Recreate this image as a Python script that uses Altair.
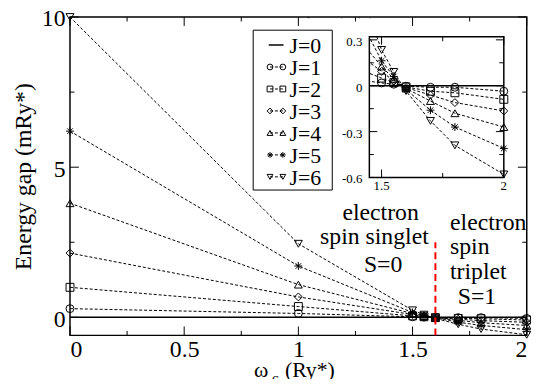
import altair as alt
import pandas as pd

# ---------------- data ----------------
omega = [0.0, 1.0, 1.5, 1.55, 1.6, 1.7, 1.8, 2.0]
J_labels = ["J=0", "J=1", "J=2", "J=3", "J=4", "J=5", "J=6"]
gap_J0 = [0, 0, 0, 0, 0, 0, 0, 0]
gap_J1 = [0.29, 0.13, 0.018, 0.010, -0.003, -0.010, -0.010, -0.036]
gap_J2 = [1.00, 0.36, 0.050, 0.020, -0.008, -0.036, -0.046, -0.089]
gap_J3 = [2.14, 0.68, 0.094, 0.030, -0.012, -0.061, -0.110, -0.165]
gap_J4 = [3.80, 1.09, 0.126, 0.045, -0.018, -0.100, -0.180, -0.270]
gap_J5 = [6.20, 1.71, 0.163, 0.060, -0.025, -0.160, -0.270, -0.410]
gap_J6 = [10.0, 2.45, 0.234, 0.090, -0.035, -0.230, -0.390, -0.580]
series = [gap_J0, gap_J1, gap_J2, gap_J3, gap_J4, gap_J5, gap_J6]

boundary_x = [1.6]          # singlet / triplet boundary
boundary_y = [-0.6, 2.5]

main_x_domain = [0, 2]
main_y_domain = [-0.6, 10]
main_x_major = [0, 0.5, 1, 1.5, 2]
main_x_minor = [0.25, 0.75, 1.25, 1.75]
main_y_major = [0, 5, 10]
main_y_minor = [2.5, 7.5]

inset_x_domain = [1.45, 2]
inset_y_domain = [-0.6, 0.32]
inset_x_major = [1.5, 2]
inset_x_labels = ["1.5", "2"]
inset_x_minor = [1.75]
inset_y_major = [0.3, 0, -0.3, -0.6]
inset_y_labels = ["0.3", "0", "-0.3", "-0.6"]
inset_y_minor = [0.15, -0.15, -0.45]

ann_text = ["electron", "spin singlet", "S=0", "electron", "spin", "triplet", "S=1"]
ann_x = [1.193, 1.095, 1.287, 1.664, 1.664, 1.664, 1.698]
ann_y = [3.25, 2.43, 1.51, 2.92, 2.10, 1.28, 0.45]

xtitle_text = ["ω", "(Ry*)"]
xtitle_x = [0.806, 0.941]
xtitle_y = [-1.98, -1.98]
xsub_text = ["c"]
xsub_x = [0.884]
xsub_y = [-2.18]

legend_rows = [0, 1, 2, 3, 4, 5, 6]

rows = []
for lab, vals in zip(J_labels, series):
    for xv, yv in zip(omega, vals):
        rows.append({"omega": xv, "gap": yv, "J": lab})
df = pd.DataFrame(rows)
ldf = pd.DataFrame({"J": J_labels, "row": legend_rows})

# ---------------- styling / geometry ----------------
SERIF = "Liberation Serif"
W, H = 462, 322
# inset box in pixels, relative to the main plot origin
IL, IR, IT, IB = 302.8, 438.8, 20.0, 162.3

ASTERISK = "M-1,0L1,0M0,-1L0,1M-0.7,-0.7L0.7,0.7M-0.7,0.7L0.7,-0.7"
marker_shapes = {
    "J=1": "circle", "J=2": "square", "J=3": "diamond", "J=4": "triangle-up",
    "J=5": ASTERISK, "J=6": "triangle-down",
}

# ---------------- scales / encoders ----------------
mxs = alt.Scale(domain=main_x_domain, nice=False, zero=False)
mys = alt.Scale(domain=main_y_domain, nice=False, zero=False)
mxa = alt.Axis(values=main_x_major, format="~g", ticks=False, tickSize=0, domain=False,
               grid=False, labelFont=SERIF, labelFontSize=24, labelColor="black",
               labelPadding=2, title=None)
mya = alt.Axis(values=main_y_major, format="d", ticks=False, tickSize=0, domain=False,
               grid=False, labelFont=SERIF, labelFontSize=24, labelColor="black",
               labelPadding=5, labelOffset=2, title="Energy gap (mRy*)", titleFont=SERIF,
               titleFontSize=24, titleFontWeight="normal", titleColor="black",
               titlePadding=6)


def MX(f):
    return alt.X(f, type="quantitative", scale=mxs, axis=mxa)


def MY(f):
    return alt.Y(f, type="quantitative", scale=mys, axis=mya)


oxs = alt.Scale(domain=main_x_domain, nice=False, zero=False)
oys = alt.Scale(domain=main_y_domain, nice=False, zero=False)


def OX(f):
    return alt.X(f, type="quantitative", scale=oxs, axis=None)


def OY(f):
    return alt.Y(f, type="quantitative", scale=oys, axis=None)


ixs = alt.Scale(domain=inset_x_domain, range=[IL, IR], nice=False, zero=False)
iys = alt.Scale(domain=inset_y_domain, range=[IB, IT], nice=False, zero=False)


def IX(f):
    return alt.X(f, type="quantitative", scale=ixs, axis=None)


def IY(f):
    return alt.Y(f, type="quantitative", scale=iys, axis=None)


lys = alt.Scale(domain=[legend_rows[0], legend_rows[-1]], range=[28.3, 161.7])


def LY(f):
    return alt.Y(f, type="quantitative", scale=lys, axis=None)


def series_layers(X, Y, data, clip, point_filter):
    base = alt.Chart(data)
    out = [
        base.transform_filter("datum.J == 'J=0'").mark_line(
            color="black", strokeWidth=1.5, clip=clip).encode(x=X("omega"), y=Y("gap")),
        base.transform_filter("datum.J != 'J=0'").mark_line(
            color="black", strokeWidth=1, strokeDash=[3, 2], clip=clip).encode(
            x=X("omega"), y=Y("gap"), detail="J:N"),
    ]
    for lab, shp in marker_shapes.items():
        out.append(base.transform_filter(f"datum.J == '{lab}'")
                   .transform_filter(point_filter)
                   .mark_point(shape=shp, size=64, filled=False, color="black",
                               strokeWidth=1, opacity=1, clip=clip)
                   .encode(x=X("omega"), y=Y("gap")))
    return out


def tick_layers(xmaj, xmin, ymaj, ymin, X, Y, l, r, t, b, Lmaj, Lmin):
    out = []
    for vals, L in ((xmaj, Lmaj), (xmin, Lmin)):
        d = alt.Chart(pd.DataFrame({"v": vals}))
        out.append(d.mark_rule(color="black", strokeWidth=1).encode(
            x=X("v"), y=alt.value(b), y2=alt.value(b - L)))
        out.append(d.mark_rule(color="black", strokeWidth=1).encode(
            x=X("v"), y=alt.value(t), y2=alt.value(t + L)))
    for vals, L in ((ymaj, Lmaj), (ymin, Lmin)):
        d = alt.Chart(pd.DataFrame({"v": vals}))
        out.append(d.mark_rule(color="black", strokeWidth=1).encode(
            y=Y("v"), x=alt.value(l), x2=alt.value(l + L)))
        out.append(d.mark_rule(color="black", strokeWidth=1).encode(
            y=Y("v"), x=alt.value(r), x2=alt.value(r - L)))
    return out


# ---------------- group 1: main panel ----------------
g1 = series_layers(MX, MY, df, False, "true")
g1.append(
    alt.Chart(pd.DataFrame({"x": boundary_x, "y": [boundary_y[0]], "y2": [boundary_y[1]]}))
    .mark_rule(color="#ff0000", strokeWidth=2, strokeDash=[7, 4])
    .encode(x=MX("x"), y=MY("y"), y2="y2")
)
g1.append(
    alt.Chart(pd.DataFrame({"t": ann_text, "x": ann_x, "y": ann_y}))
    .mark_text(align="left", baseline="alphabetic", font=SERIF, fontSize=24, color="black")
    .encode(x=MX("x"), y=MY("y"), text="t:N")
)
g1.append(
    alt.Chart(pd.DataFrame({"t": xtitle_text, "x": xtitle_x, "y": xtitle_y}))
    .mark_text(align="left", baseline="alphabetic", font=SERIF, fontSize=22, color="black")
    .encode(x=MX("x"), y=MY("y"), text="t:N")
)
g1.append(
    alt.Chart(pd.DataFrame({"t": xsub_text, "x": xsub_x, "y": xsub_y}))
    .mark_text(align="left", baseline="alphabetic", font=SERIF, fontSize=15, color="black")
    .encode(x=MX("x"), y=MY("y"), text="t:N")
)
G1 = alt.layer(*g1)

# ---------------- group 2: inset ----------------
box = alt.Chart(pd.DataFrame({"x": [inset_x_domain[0]], "x2": [inset_x_domain[1]],
                              "y": [inset_y_domain[0]], "y2": [inset_y_domain[1]]}))
top_val = inset_y_domain[1] + (IT - 1.3) / (IB - IT) * (inset_y_domain[1] - inset_y_domain[0])
masks = alt.Chart(pd.DataFrame({"x": [1.0, inset_x_domain[0]],
                                "x2": [inset_x_domain[0], inset_x_domain[1]],
                                "y": [inset_y_domain[0], inset_y_domain[1]],
                                "y2": [top_val, top_val]}))
g2 = [box.mark_rect(fill="white", strokeWidth=0).encode(x=IX("x"), x2="x2", y=IY("y"), y2="y2")]
g2 += series_layers(IX, IY, df[df["omega"] >= 1.0], True, "datum.omega >= 1.5")
g2.append(masks.mark_rect(fill="white", strokeWidth=0).encode(
    x=IX("x"), x2="x2", y=IY("y"), y2="y2"))
g2.append(box.mark_rect(fill="transparent", stroke="black", strokeWidth=1.5).encode(
    x=IX("x"), x2="x2", y=IY("y"), y2="y2"))
g2 += tick_layers(inset_x_major, inset_x_minor, inset_y_major, inset_y_minor,
                  IX, IY, IL, IR, IT, IB, 8, 4.5)
g2.append(
    alt.Chart(pd.DataFrame({"v": inset_x_major, "t": inset_x_labels,
                            "b": [inset_y_domain[0]] * len(inset_x_major)}))
    .mark_text(baseline="top", align="center", dy=3, font=SERIF, fontSize=13, color="black")
    .encode(x=IX("v"), y=IY("b"), text="t:N")
)
g2.append(
    alt.Chart(pd.DataFrame({"v": inset_y_major, "t": inset_y_labels,
                            "l": [inset_x_domain[0]] * len(inset_y_major)}))
    .mark_text(baseline="middle", align="right", dx=-7, dy=2, font=SERIF, fontSize=13,
               color="black")
    .encode(x=IX("l"), y=IY("v"), text="t:N")
)
G2 = alt.layer(*g2)

# ---------------- group 3: main ticks on top ----------------
G3 = alt.layer(*tick_layers(main_x_major, main_x_minor, main_y_major, main_y_minor,
                            OX, OY, 0, W, 0, H, 9, 4.5))

# ---------------- group 4: legend ----------------
lbase = alt.Chart(ldf)
g4 = [
    alt.Chart(pd.DataFrame({"a": [0]})).mark_rect(fill="white", stroke="black", strokeWidth=1)
    .encode(x=alt.value(185.3), x2=alt.value(265.3), y=alt.value(13.3), y2=alt.value(175)),
    lbase.transform_filter("datum.J == 'J=0'").mark_rule(color="black", strokeWidth=1.5)
    .encode(x=alt.value(201), x2=alt.value(216), y=LY("row")),
    lbase.transform_filter("datum.J != 'J=0'")
    .mark_rule(color="black", strokeWidth=1, strokeDash=[3, 2])
    .encode(x=alt.value(202.3), x2=alt.value(215.3), y=LY("row")),
]
for xpos in (202.3, 215.3):
    g4.append(
        lbase.transform_filter("datum.J != 'J=0'")
        .mark_point(filled=False, size=34, strokeWidth=1, color="black", opacity=1)
        .encode(x=alt.value(xpos), y=LY("row"),
                shape=alt.Shape("J:N", scale=alt.Scale(domain=J_labels[1:],
                                                      range=[marker_shapes[j] for j in J_labels[1:]]),
                                legend=None))
    )
g4.append(
    lbase.mark_text(align="left", baseline="middle", dy=1, font=SERIF, fontSize=22,
                    color="black")
    .encode(x=alt.value(222), y=LY("row"), text="J:N")
)
G4 = alt.layer(*g4)

chart = (
    alt.layer(G1, G2, G3, G4)
    .resolve_scale(x="independent", y="independent")
    .properties(width=W, height=H, background="white",
                autosize=alt.AutoSizeParams(type="none"),
                padding={"left": 62.7, "top": 7, "right": 4.3, "bottom": 42})
    .configure_view(stroke="black", strokeWidth=1.5, fill="white")
)

chart.save("out.html", embed_options={"renderer": "svg", "actions": False})
